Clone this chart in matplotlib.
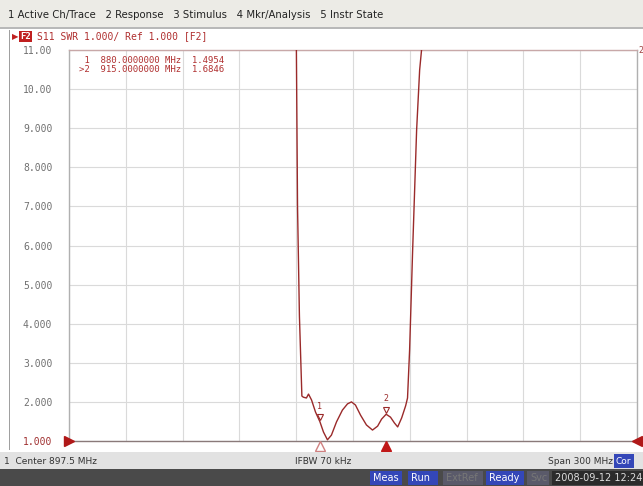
import numpy as np
import matplotlib
matplotlib.use("Agg")
import matplotlib.pyplot as plt
from matplotlib.patches import Rectangle
from matplotlib.transforms import blended_transform_factory

# analyzer settings
center = 897.5  # MHz
span = 300.0
f_start = center - span / 2
f_stop = center + span / 2

# SWR trace (MHz, SWR)
freq = [866.5, 867.6, 868.2, 869.2, 870.5, 871.3, 872.9, 874.0, 875.6, 877.7,
        880.0, 881.9, 884.0, 886.1, 888.8, 891.9, 894.6, 896.7, 898.8, 901.5,
        904.6, 907.8, 910.5, 912.6, 915.0, 917.3, 919.4, 921.1, 923.2, 925.3,
        926.3, 927.4, 929.0, 931.1, 932.7, 933.7, 934.5]
swr = [15.0, 11.0, 7.0, 4.2, 2.15, 2.12, 2.10, 2.20, 2.05, 1.74,
       1.4954, 1.23, 1.03, 1.15, 1.49, 1.79, 1.95, 2.00, 1.92, 1.66,
       1.41, 1.28, 1.38, 1.56, 1.6846, 1.61, 1.46, 1.36, 1.59, 1.90,
       2.10, 3.33, 5.88, 8.95, 10.49, 11.0, 15.0]

mk_freq = [880.0, 915.0]
mk_swr = [1.4954, 1.6846]

yticks = [1, 2, 3, 4, 5, 6, 7, 8, 9, 10, 11]
ylabels = ["1.000", "2.000", "3.000", "4.000", "5.000", "6.000",
           "7.000", "8.000", "9.000", "10.00", "11.00"]

W, H = 643, 486
trace_col = "#9a2a2a"
mono = "DejaVu Sans Mono"


def px(x, y):
    # pixel (from top-left) -> figure fraction
    return x / W, 1 - y / H


fig = plt.figure(figsize=(W / 100, H / 100), dpi=100)
fig.patch.set_facecolor("white")

# menu bar
fig.patches.append(Rectangle(px(0, 28), 1, 28 / H, transform=fig.transFigure,
                             facecolor="#ecebe6", edgecolor="none", zorder=0))
fig.text(*px(8, 15), "1 Active Ch/Trace   2 Response   3 Stimulus   4 Mkr/Analysis   5 Instr State",
         fontsize=7.3, va="center", ha="left", color="#222222", family="DejaVu Sans")
fig.patches.append(Rectangle(px(0, 29), 1, 1.5 / H, transform=fig.transFigure,
                             facecolor="#b8b8b8", edgecolor="none", zorder=1))
fig.patches.append(Rectangle(px(9, 450), 1.2 / W, 420 / H, transform=fig.transFigure,
                             facecolor="#a0a0a0", edgecolor="none", zorder=1))

# trace title line
fig.patches.append(Rectangle(px(19, 42), 13 / W, 11 / H, transform=fig.transFigure,
                             facecolor="#c02020", edgecolor="none", zorder=1))
fig.text(*px(12, 36.5), "\u25b6", fontsize=6, color="#c02020", va="center", ha="left")
fig.text(*px(20, 36.5), "F2", fontsize=6.5, color="white", va="center", ha="left",
         family=mono, weight="bold")
fig.text(*px(37, 36.5), "S11 SWR 1.000/ Ref 1.000 [F2]", fontsize=7, color="#b03030",
         va="center", ha="left", family=mono)

# status bar
fig.patches.append(Rectangle(px(0, 469), 1, 17 / H, transform=fig.transFigure,
                             facecolor="#e2e2e2", edgecolor="none", zorder=0))
fig.text(*px(4, 461), "1  Center 897.5 MHz", fontsize=6.5, color="#333333", va="center")
fig.text(*px(295, 461), "IFBW 70 kHz", fontsize=6.5, color="#333333", va="center")
fig.text(*px(548, 461), "Span 300 MHz", fontsize=6.5, color="#333333", va="center")
fig.patches.append(Rectangle(px(614, 468), 20 / W, 14 / H, transform=fig.transFigure,
                             facecolor="#3447b8", edgecolor="none", zorder=1))
fig.text(*px(616, 461), "Cor", fontsize=6.5, color="white", va="center")

# bottom bar
fig.patches.append(Rectangle(px(0, 486), 1, 17 / H, transform=fig.transFigure,
                             facecolor="#4a4a4a", edgecolor="none", zorder=0))
boxes = [("Meas", 370, 32, "#3447b8", "white"), ("Run", 408, 30, "#3447b8", "white"),
         ("ExtRef", 443, 40, "#5a5a6a", "#777777"), ("Ready", 486, 38, "#3447b8", "white"),
         ("Svc", 527, 22, "#5a5a6a", "#777777"), ("2008-09-12 12:24", 552, 91, "#2b2b2b", "#dddddd")]
for label, x0, w, fc, tc in boxes:
    fig.patches.append(Rectangle(px(x0, 485), w / W, 14 / H, transform=fig.transFigure,
                                 facecolor=fc, edgecolor="none", zorder=1))
    fig.text(*px(x0 + 3, 478), label, fontsize=7, color=tc, va="center", ha="left")

# plot area
ax = fig.add_axes([69 / W, 1 - 441 / H, 568 / W, 391 / H])
ax.set_xlim(f_start, f_stop)
ax.set_ylim(1, 11)
ax.set_xticks(np.arange(f_start, f_stop + 1, span / 10))
ax.set_yticks(yticks)
ax.set_xticklabels([])
ax.set_yticklabels(ylabels, family=mono, fontsize=7, color="#707070")
ax.get_yticklabels()[0].set_color("#a03030")
ax.tick_params(length=0, pad=12)
ax.grid(True, color="#dadada", lw=0.8)
for s in ax.spines.values():
    s.set_color("#b0b0b0")
    s.set_linewidth(1.0)
ax.spines["top"].set_color("#c8a8a8")
ax.spines["bottom"].set_color("#8a7a7a")

ax.plot(freq, swr, color=trace_col, lw=1.0, zorder=3)

# marker symbols on the trace
ax.plot(mk_freq[0], mk_swr[0] + 0.12, marker="v", ms=5, mfc="none", mec=trace_col, mew=0.8, zorder=4)
ax.text(mk_freq[0], mk_swr[0] + 0.28, "1", fontsize=6, color=trace_col, ha="center", va="bottom", family=mono)
ax.plot(mk_freq[1], mk_swr[1] + 0.12, marker="v", ms=5, mfc="none", mec=trace_col, mew=0.8, zorder=4)
ax.text(mk_freq[1], mk_swr[1] + 0.28, "2", fontsize=6, color=trace_col, ha="center", va="bottom", family=mono)

# marker table
ax.text(0.018, 0.985, " 1  880.0000000 MHz  1.4954\n>2  915.0000000 MHz  1.6846",
        transform=ax.transAxes, fontsize=6.5, color="#b03030", family=mono,
        va="top", ha="left", linespacing=1.0)

# stimulus markers below the axis
tb = blended_transform_factory(ax.transData, ax.transAxes)
ax.plot(mk_freq[0], -0.012, marker="^", ms=7, mfc="white", mec="#d08080", mew=1.0,
        transform=tb, clip_on=False, zorder=5)
ax.plot(mk_freq[1], -0.012, marker="^", ms=7, color="#c01818", transform=tb,
        clip_on=False, zorder=5)

# reference level arrows
ax.plot(0, 0, marker=">", ms=7, color="#b01818", transform=ax.transAxes,
        clip_on=False, zorder=5)
ax.plot(1.0, 0, marker="<", ms=7, color="#b01818", transform=ax.transAxes,
        clip_on=False, zorder=5)
ax.text(1.003, 1.0, "2", transform=ax.transAxes, fontsize=6, color="#a04040",
        va="center", ha="left", family=mono)

fig.savefig("out.png", dpi=100)
